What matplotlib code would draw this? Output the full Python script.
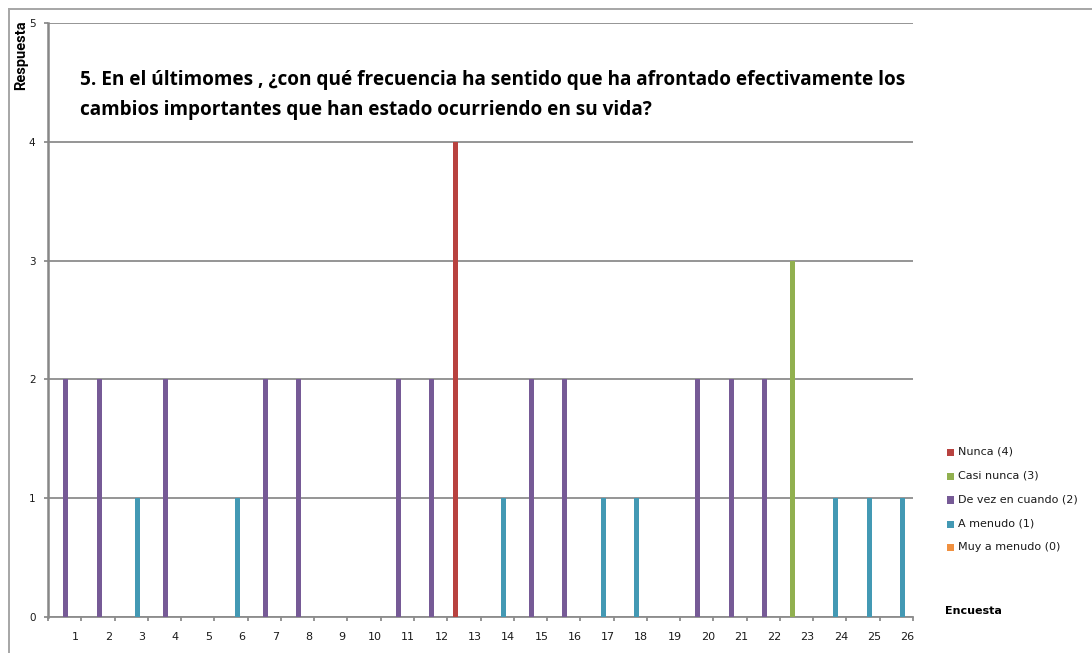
import matplotlib
matplotlib.use("Agg")
import matplotlib.pyplot as plt
from matplotlib.patches import Rectangle
from matplotlib.lines import Line2D
import numpy as np

# Survey numbers (one bar per survey)
encuestas = list(range(1, 27))

# Answer value per series; 0 where the survey gave another answer
nunca        = [0, 0, 0, 0, 0, 0, 0, 0, 0, 0, 0, 0, 4, 0, 0, 0, 0, 0, 0, 0, 0, 0, 0, 0, 0, 0]
casi_nunca   = [0, 0, 0, 0, 0, 0, 0, 0, 0, 0, 0, 0, 0, 0, 0, 0, 0, 0, 0, 0, 0, 0, 3, 0, 0, 0]
de_vez       = [2, 2, 0, 2, 0, 0, 2, 2, 0, 0, 2, 2, 0, 0, 2, 2, 0, 0, 0, 2, 2, 2, 0, 0, 0, 0]
a_menudo     = [0, 0, 1, 0, 0, 1, 0, 0, 0, 0, 0, 0, 0, 1, 0, 0, 1, 1, 0, 0, 0, 0, 0, 1, 1, 1]
muy_a_menudo = [0] * 26

series_names = ["Nunca (4)", "Casi nunca (3)", "De vez en cuando (2)", "A menudo (1)", "Muy a menudo (0)"]
series_vals = [nunca, casi_nunca, de_vez, a_menudo, muy_a_menudo]
series_colors = ["#B8423F", "#91B04F", "#765A96", "#4399B4", "#F0903F"]

y_ticks = [0, 1, 2, 3, 4, 5]

title_1 = "5. En el últimomes , ¿con qué frecuencia ha sentido que ha afrontado efectivamente los"
title_2 = "cambios importantes que han estado ocurriendo en su vida?"

W, H = 1092, 653
fig = plt.figure(figsize=(W / 100, H / 100), dpi=100)
fig.patch.set_facecolor("white")

def fx(px):
    return px / W

def fy(py):
    return 1 - py / H

ax = fig.add_axes([fx(48), fy(617), fx(913) - fx(48), fy(23) - fy(617)])

x = np.arange(1, 27)
bw = 0.15
for k, (vals, col) in enumerate(zip(series_vals, series_colors)):
    ax.bar(x + (k - 2) * bw + 0.035, vals, width=bw, color=col, linewidth=0, zorder=3)

ax.set_xlim(0.5, 26.5)
ax.set_ylim(0, 5)

grid_col = "#8C8C8C"
ax.set_yticks(y_ticks)
ax.yaxis.grid(True, color=grid_col, linewidth=1.3, zorder=1)
ax.set_axisbelow(True)

# category labels sit slightly right of the category centre, ticks at boundaries
ax.set_xticks(x + 0.33)
ax.set_xticklabels([str(e) for e in encuestas], fontsize=8, color="#1a1a1a")
ax.tick_params(axis="x", which="major", length=0, pad=11)
ax.set_xticks(np.arange(0.5, 27, 1.0), minor=True)
ax.tick_params(axis="x", which="minor", length=3, width=1.3, color=grid_col, direction="out")
ax.tick_params(axis="y", length=3, width=1.3, color=grid_col, direction="out",
               labelsize=7.5, labelcolor="#1a1a1a", pad=6)

for s in ["top", "right"]:
    ax.spines[s].set_visible(False)
ax.spines["left"].set_color("#878787")
ax.spines["left"].set_linewidth(1.8)
ax.spines["bottom"].set_color(grid_col)
ax.spines["bottom"].set_linewidth(1.3)

# outer chart frame (left and top edges)
fig.add_artist(Line2D([fx(9), fx(9)], [fy(9), 0], transform=fig.transFigure,
                      color="#A6A6A6", linewidth=1.4))
fig.add_artist(Line2D([fx(9), 1], [fy(9), fy(9)], transform=fig.transFigure,
                      color="#A6A6A6", linewidth=1.4))

# y axis title
fig.text(fx(21), fy(20), "Respuesta", rotation=90, ha="center", va="top",
         fontsize=10.5, fontweight="bold", family=["Roboto", "DejaVu Sans"],
         color="#000000")

# chart title
fig.text(fx(80), fy(80), title_1, ha="left", va="center", fontsize=13.7,
         fontweight="bold", family=["Open Sans", "DejaVu Sans"], color="#000000")
fig.text(fx(80), fy(110), title_2, ha="left", va="center", fontsize=13.7,
         fontweight="bold", family=["Open Sans", "DejaVu Sans"], color="#000000")

# legend
leg_y = [452, 476, 500, 524, 547]
for name, col, py in zip(series_names, series_colors, leg_y):
    fig.add_artist(Rectangle((fx(947), fy(py + 3.5)), fx(7), fy(py - 3.5) - fy(py + 3.5),
                             transform=fig.transFigure, facecolor=col, edgecolor="none"))
    fig.text(fx(958), fy(py), name, ha="left", va="center", fontsize=8,
             color="#1a1a1a", family="DejaVu Sans")

# x axis title
fig.text(fx(945), fy(611), "Encuesta", ha="left", va="center", fontsize=8,
         fontweight="bold", color="#000000", family="DejaVu Sans")

fig.savefig("out.png", dpi=100, facecolor="white")
